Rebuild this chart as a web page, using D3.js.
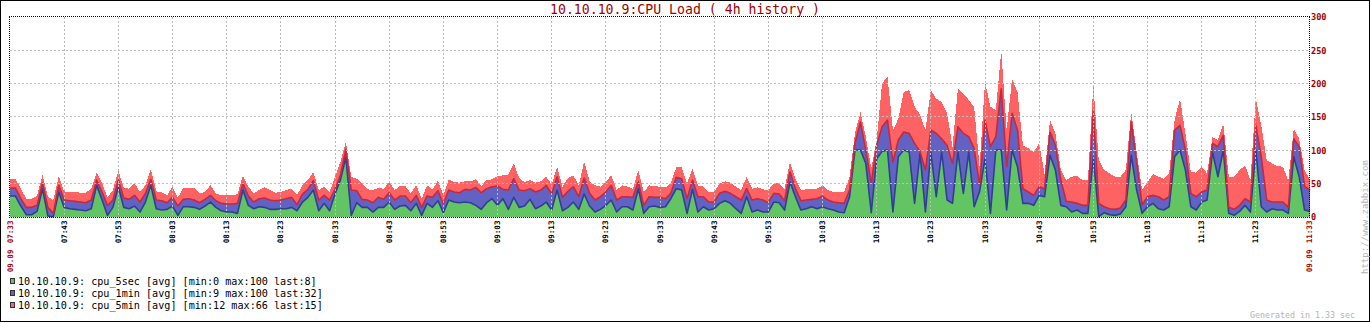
<!DOCTYPE html>
<html>
<head>
<meta charset="utf-8">
<script src="https://cdn.jsdelivr.net/npm/d3@7"></script>
<style>
  html, body { margin: 0; padding: 0; background: #ffffff; }
  svg { display: block; }
  text { font-family: "DejaVu Sans Mono", "Liberation Mono", monospace; }
</style>
</head>
<body>
<svg id="chart" width="1371" height="323"></svg>
<script>
// CPU load of 10.10.10.9, one sample per minute from 07:33 to 11:33 on 09.09
const startTime = new Date(2013, 8, 9, 7, 33);
const stepMinutes = 1;
const gridMinutes = 10;

const cpu5sec = [
  31,31,16,3,3,8,42,1,0,37, 14,12,11,10,9,12,47,25,2,14,
  45,14,12,16,7,22,47,12,10,11, 16,2,15,15,14,11,16,22,14,9,
  7,7,5,40,17,12,15,14,11,11, 12,12,14,9,22,29,40,9,20,9,
  34,55,89,2,21,14,14,7,14,14, 22,11,16,17,9,20,2,20,14,24,
  6,25,22,21,22,21,17,11,21,27, 17,27,11,29,14,16,26,12,16,22,
  10,40,9,14,22,11,34,16,7,11, 17,25,7,15,15,10,42,5,15,16,
  14,15,27,42,40,5,41,7,15,10, 12,20,24,20,12,5,30,7,10,7,
  7,22,21,10,52,30,10,12,15,12, 15,12,10,7,6,30,100,100,80,6,
  87,98,100,7,90,100,97,20,95,7, 97,30,97,25,20,97,35,97,15,38,
  87,5,100,100,10,100,75,20,20,17, 32,30,92,70,17,15,7,10,5,5,
  90,0,6,3,2,4,15,92,40,5, 15,20,12,10,15,90,100,70,15,10,
  22,25,97,60,100,5,2,8,17,7, 100,15,7,12,10,10,5,90,60,10, 8
];
const cpu1min = [
  12,12,11,11,11,9,9,13,5,10, 11,12,12,12,12,13,8,12,15,11,
  10,14,14,16,15,13,9,13,14,10, 13,14,11,12,11,10,10,10,10,11,
  12,12,15,10,14,10,12,14,14,13, 13,15,15,9,12,12,14,16,12,16,
  7,7,12,38,18,12,11,14,15,12, 14,14,15,14,12,12,12,11,15,15,
  13,15,15,15,19,19,27,25,21,18, 29,14,29,28,26,23,16,25,24,25,
  24,20,20,24,23,19,24,19,18,19, 20,22,18,15,15,19,10,12,15,13,
  15,12,8,17,17,22,14,23,15,12, 10,15,14,15,18,20,12,18,17,18,
  14,13,13,14,15,12,14,13,11,15, 16,13,12,14,14,10,10,42,20,44,
  20,37,45,75,25,27,28,90,3,63, 33,95,20,82,60,38,90,23,87,9,
  58,100,20,92,65,55,55,22,17,15, 13,12,35,37,38,8,15,10,12,12,
  70,20,9,9,9,9,10,50,42,13, 15,12,18,15,15,40,37,30,20,20,
  15,15,13,45,22,9,9,9,10,15, 37,75,18,10,12,12,9,27,45,35, 32
];
const cpu5min = [
  14,14,15,13,13,14,12,16,20,14, 13,13,14,14,15,17,11,13,12,15,
  14,15,16,18,15,12,15,13,13,11, 16,13,17,16,18,14,11,15,11,12,
  13,13,14,12,14,13,13,16,15,12, 12,13,13,15,13,14,13,15,13,12,
  19,20,11,20,18,24,16,19,14,16, 16,15,15,15,14,15,13,16,12,15,
  13,16,15,15,12,13,12,10,13,11, 15,21,23,23,18,13,13,14,13,13,
  14,15,16,20,17,17,25,18,22,15, 15,15,15,17,15,13,18,20,17,17,
  16,17,15,15,17,23,17,17,15,15, 15,15,15,16,15,15,18,17,17,16,
  19,15,16,18,15,15,16,16,15,15, 16,15,15,16,17,20,15,15,20,22,
  8,65,65,48,32,60,65,55,55,60, 60,52,55,48,25,57,60,55,62,28,
  57,60,40,57,55,52,57,65,66,65, 65,22,18,18,15,32,38,41,38,38,
  38,65,55,53,49,47,45,15,15,22, 22,32,30,32,35,15,40,25,32,36,
  38,25,9,10,17,46,49,53,50,33, 40,47,60,58,54,53,40,15,12,25, 15
];

const seriesKeys = ["cpu_5sec", "cpu_1min", "cpu_5min"];
const seriesLabels = [
  "10.10.10.9: cpu_5sec [avg] [min:0 max:100 last:8]",
  "10.10.10.9: cpu_1min [avg] [min:9 max:100 last:32]",
  "10.10.10.9: cpu_5min [avg] [min:12 max:66 last:15]"
];
const fillColors = ["#62c462", "#6262c4", "#ff6262"];
const edgeColors = ["#2f7a2f", "#2f3f93", "#c8283e"];

const yTicks = [0, 50, 100, 150, 200, 250, 300];
const titleText = "10.10.10.9:CPU Load ( 4h history )";
const footerText = "Generated in 1.33 sec";
const siteText = "http://www.zabbix.com";

const rows = cpu5sec.map((v, i) => ({
  time: d3.timeMinute.offset(startTime, i * stepMinutes),
  cpu_5sec: v,
  cpu_1min: cpu1min[i],
  cpu_5min: cpu5min[i]
}));
const endTime = rows[rows.length - 1].time;

const svg = d3.select("#chart");
const x0 = 10, x1 = 1310, yTop = 16.7, yBottom = 216.7;

const x = d3.scaleTime().domain([startTime, endTime]).range([x0, x1]);
const y = d3.scaleLinear().domain([0, 300]).range([yBottom, yTop]);

// grid times every 10 minutes counted from the start of the period
const totalMinutes = (endTime - startTime) / 60000;
const innerTicks = d3.range(gridMinutes, totalMinutes, gridMinutes)
  .map(m => d3.timeMinute.offset(startTime, m));

// outer frame
svg.append("rect")
  .attr("x", 0.5).attr("y", 0.5).attr("width", 1369).attr("height", 321)
  .attr("fill", "#ffffff").attr("stroke", "#000000").attr("stroke-width", 1);

// title
svg.append("text")
  .attr("x", 685).attr("y", 9.5)
  .attr("text-anchor", "middle").attr("dominant-baseline", "central")
  .attr("font-size", 13.2).attr("fill", "#a00000")
  .text(titleText);

// stacked areas
const stack = d3.stack().keys(seriesKeys);
const layers = stack(rows);

const area = d3.area()
  .x(d => x(d.data.time))
  .y0(d => y(d[0]))
  .y1(d => y(d[1]))
  .curve(d3.curveLinear);

const plot = svg.append("g");
plot.selectAll("path.layer")
  .data(layers)
  .join("path")
  .attr("class", "layer")
  .attr("d", area)
  .attr("fill", (d, i) => fillColors[i])
  .attr("shape-rendering", "crispEdges");

// each upper layer is edged along its lower boundary
const edge = d3.line()
  .x(d => x(d.data.time))
  .y(d => y(d[0]))
  .curve(d3.curveLinear);

plot.selectAll("path.edge")
  .data(layers.slice(1))
  .join("path")
  .attr("class", "edge")
  .attr("d", edge)
  .attr("fill", "none")
  .attr("stroke", (d, i) => edgeColors[i + 1])
  .attr("stroke-width", 1.6)
  .attr("stroke-linejoin", "round");

// grid
const grid = svg.append("g")
  .attr("stroke", "#bdbdbd").attr("stroke-width", 1)
  .attr("stroke-dasharray", "2,2").attr("shape-rendering", "crispEdges");
grid.selectAll("line.v")
  .data(innerTicks)
  .join("line")
  .attr("x1", d => Math.floor(x(d)) + 0.5).attr("x2", d => Math.floor(x(d)) + 0.5)
  .attr("y1", yTop).attr("y2", yBottom);
grid.selectAll("line.h")
  .data(yTicks.filter(v => v > 0 && v < 300))
  .join("line")
  .attr("x1", x0).attr("x2", x1 - 1)
  .attr("y1", d => Math.floor(y(d)) + 0.5).attr("y2", d => Math.floor(y(d)) + 0.5);

// plot frame, dotted
const frame = svg.append("g")
  .attr("stroke", "#000000").attr("stroke-width", 1)
  .attr("stroke-dasharray", "1,1").attr("shape-rendering", "crispEdges");
frame.append("line").attr("x1", x0 - 1).attr("x2", x1).attr("y1", 16.5).attr("y2", 16.5);
frame.append("line").attr("x1", x0 - 1).attr("x2", x1).attr("y1", 217.5).attr("y2", 217.5);
frame.append("line").attr("x1", x0 - 0.5).attr("x2", x0 - 0.5).attr("y1", 16.5).attr("y2", 217.5);
frame.append("line").attr("x1", x1 - 0.5).attr("x2", x1 - 0.5).attr("y1", 16.5).attr("y2", 217.5);

// y axis on the right
const yAxis = d3.axisRight(y).tickValues(yTicks).tickSize(0).tickPadding(0);
const yg = svg.append("g").attr("transform", `translate(${x1 + 1},0)`).call(yAxis);
yg.select(".domain").remove();
yg.selectAll("text")
  .attr("font-family", "DejaVu Sans Mono, monospace")
  .attr("font-size", 8.6).attr("font-weight", "bold")
  .attr("fill", "#a00000").attr("dy", "0.35em").attr("x", 0);

// time labels, vertical
const fmtTime = d3.timeFormat("%H:%M");
const fmtDate = d3.timeFormat("%d.%m");
const xl = svg.append("g")
  .attr("font-size", 7.6).attr("font-weight", "bold");
xl.selectAll("text.t")
  .data(innerTicks)
  .join("text")
  .attr("transform", d => `translate(${Math.floor(x(d)) + 0.5},220.5) rotate(-90)`)
  .attr("text-anchor", "end").attr("dominant-baseline", "central")
  .attr("fill", "#000000")
  .text(fmtTime);
[startTime, endTime].forEach(t => {
  const px = Math.floor(x(t)) + (t === startTime ? 0 : -0.5);
  xl.append("text")
    .attr("transform", `translate(${px},220.5) rotate(-90)`)
    .attr("text-anchor", "end").attr("dominant-baseline", "central")
    .attr("fill", "#a00000").text(fmtTime(t));
  xl.append("text")
    .attr("transform", `translate(${px},249.5) rotate(-90)`)
    .attr("text-anchor", "end").attr("dominant-baseline", "central")
    .attr("fill", "#a00000").text(fmtDate(t));
});

// legend
const legend = svg.append("g");
seriesLabels.forEach((label, i) => {
  const cy = 281 + i * 12;
  legend.append("rect")
    .attr("x", 10.5).attr("y", cy - 2.5).attr("width", 4).attr("height", 5)
    .attr("fill", fillColors[i]).attr("stroke", "#333333").attr("stroke-width", 1)
    .attr("shape-rendering", "crispEdges");
  legend.append("text")
    .attr("x", 18).attr("y", cy)
    .attr("dominant-baseline", "central")
    .attr("font-size", 10.15).attr("fill", "#000000")
    .text(label);
});

// footer texts
svg.append("text")
  .attr("x", 1355).attr("y", 315)
  .attr("text-anchor", "end").attr("dominant-baseline", "central")
  .attr("font-size", 8.3).attr("fill", "#b4b4b4")
  .text(footerText);
svg.append("text")
  .attr("transform", "translate(1365,274) rotate(-90)")
  .attr("text-anchor", "start").attr("dominant-baseline", "central")
  .attr("font-size", 9).attr("fill", "#b4b4b4")
  .text(siteText);
</script>
</body>
</html>
